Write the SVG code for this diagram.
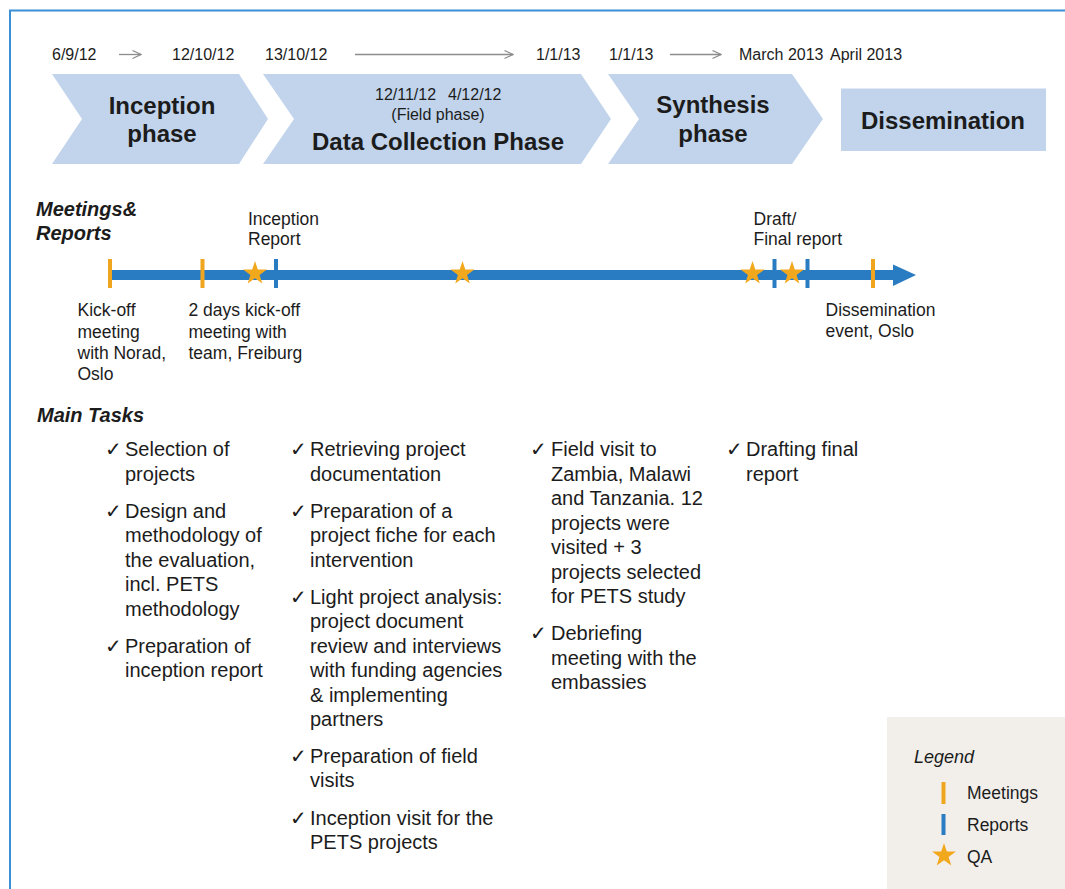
<svg xmlns="http://www.w3.org/2000/svg" width="1065" height="889" viewBox="0 0 1065 889">
<style>
text{font-family:"Liberation Sans",Arial,sans-serif;fill:#1c1c1c}
.date{font-size:16px}
.ph{font-size:24px;font-weight:bold;text-anchor:middle}
.sec{font-size:20px;font-weight:bold;font-style:italic}
.lbl{font-size:17.5px}
.task{font-size:20px}
.chk{font-family:"DejaVu Sans",sans-serif;font-size:20px}
.chev{fill:#c1d4ec}
.darr{stroke:#8c8c8c;stroke-width:1.3;fill:none;marker-end:url(#open)}
.meet{fill:#f0a51f}
.rep{fill:#2a7cc2}
.star{fill:#f2a81d}
</style>
<defs>
<marker id="open" viewBox="0 0 10 10" refX="9.5" refY="5" markerWidth="10" markerHeight="10" markerUnits="userSpaceOnUse" orient="auto">
<path d="M1,1 L9.5,5 L1,9" fill="none" stroke="#8c8c8c" stroke-width="1.2"/>
</marker>
<path id="star" d="M0,-12.5 L2.8,-3.9 L11.9,-3.9 L4.6,1.5 L7.3,10.1 L0,4.8 L-7.3,10.1 L-4.6,1.5 L-11.9,-3.9 L-2.8,-3.9 Z"/>
</defs>
<rect width="1065" height="889" fill="#ffffff"/>
<!-- frame -->
<g id="frame" stroke="#3b8fd7" stroke-width="2" fill="none">
<path d="M10,889 L10,10.5 L1065,10.5"/>
</g>
<!-- dates row -->
<g id="dates">
<text class="date" x="52" y="59.5">6/9/12</text>
<text class="date" x="172" y="59.5">12/10/12</text>
<text class="date" x="265" y="59.5">13/10/12</text>
<text class="date" x="536" y="59.5">1/1/13</text>
<text class="date" x="609" y="59.5">1/1/13</text>
<text class="date" x="739" y="59.5">March 2013</text>
<text class="date" x="830" y="59.5">April 2013</text>
</g>
<g id="date-arrows">
<line class="darr" x1="119" y1="54.5" x2="141" y2="54.5"/>
<line class="darr" x1="355" y1="54.5" x2="513" y2="54.5"/>
<line class="darr" x1="670" y1="54.5" x2="721" y2="54.5"/>
</g>
<!-- phases -->
<g id="phase-inception">
<polygon class="chev" points="52,74 239,74 268,119 239,164 52,164 82,119"/>
<text class="ph" x="162" y="113.5">Inception</text>
<text class="ph" x="162" y="142">phase</text>
</g>
<g id="phase-data">
<polygon class="chev" points="263,74 581,74 611,119 581,164 263,164 294,119"/>
<text class="date" x="375" y="99.5">12/11/12</text>
<text class="date" x="448" y="99.5">4/12/12</text>
<text class="date" x="438" y="119.5" text-anchor="middle">(Field phase)</text>
<text class="ph" x="438" y="149.5">Data Collection Phase</text>
</g>
<g id="phase-synthesis">
<polygon class="chev" points="608,74 792,74 823,119 792,164 608,164 639,119"/>
<text class="ph" x="713" y="113">Synthesis</text>
<text class="ph" x="713" y="142">phase</text>
</g>
<g id="phase-dissemination">
<rect class="chev" x="841" y="88.5" width="205" height="62.5"/>
<text class="ph" x="943" y="128.5">Dissemination</text>
</g>
<!-- meetings & reports -->
<g id="meetings-title">
<text class="sec" x="36" y="216">Meetings&amp;</text>
<text class="sec" x="36" y="240">Reports</text>
</g>
<g id="timeline">
<rect class="rep" x="108" y="270" width="788" height="10"/>
<polygon class="rep" points="893,264.5 916,275 893,286"/>
</g>
<g id="markers">
<rect class="meet" x="108" y="259" width="4" height="29"/>
<rect class="meet" x="200.5" y="259" width="4" height="29"/>
<use href="#star" class="star" x="255" y="273.5"/>
<rect class="rep" x="274" y="259" width="4" height="29"/>
<use href="#star" class="star" x="462.5" y="273.5"/>
<use href="#star" class="star" x="752.5" y="273.5"/>
<rect class="rep" x="772.5" y="259" width="4" height="29"/>
<use href="#star" class="star" x="792" y="273.5"/>
<rect class="rep" x="805.5" y="259" width="4" height="29"/>
<rect class="meet" x="871" y="259" width="4" height="29"/>
</g>
<g id="timeline-labels">
<text class="lbl" x="248" y="224.5">Inception</text>
<text class="lbl" x="248" y="245">Report</text>
<text class="lbl" x="77.5" y="316">Kick-off</text>
<text class="lbl" x="77.5" y="337.5">meeting</text>
<text class="lbl" x="77.5" y="358.5">with Norad,</text>
<text class="lbl" x="77.5" y="379.5">Oslo</text>
<text class="lbl" x="188.5" y="316">2 days kick-off</text>
<text class="lbl" x="188.5" y="337.5">meeting with</text>
<text class="lbl" x="188.5" y="358.5">team, Freiburg</text>
<text class="lbl" x="753.5" y="224.5">Draft/</text>
<text class="lbl" x="753.5" y="245">Final report</text>
<text class="lbl" x="825.5" y="316">Dissemination</text>
<text class="lbl" x="825.5" y="337">event, Oslo</text>
</g>
<!-- main tasks -->
<g id="tasks-title">
<text class="sec" x="37" y="422">Main Tasks</text>
</g>
<g id="tasks-inception">
<text class="chk" x="105" y="456">✓</text>
<text class="task" x="125" y="456">Selection of</text>
<text class="task" x="125" y="480.5">projects</text>
<text class="chk" x="105" y="517.5">✓</text>
<text class="task" x="125" y="517.5">Design and</text>
<text class="task" x="125" y="542">methodology of</text>
<text class="task" x="125" y="566.5">the evaluation,</text>
<text class="task" x="125" y="591">incl. PETS</text>
<text class="task" x="125" y="615.5">methodology</text>
<text class="chk" x="105" y="652.5">✓</text>
<text class="task" x="125" y="652.5">Preparation of</text>
<text class="task" x="125" y="677">inception report</text>
</g>
<g id="tasks-data">
<text class="chk" x="290" y="456">✓</text>
<text class="task" x="310" y="456">Retrieving project</text>
<text class="task" x="310" y="480.5">documentation</text>
<text class="chk" x="290" y="517.5">✓</text>
<text class="task" x="310" y="517.5">Preparation of a</text>
<text class="task" x="310" y="542">project fiche for each</text>
<text class="task" x="310" y="566.5">intervention</text>
<text class="chk" x="290" y="603.5">✓</text>
<text class="task" x="310" y="603.5">Light project analysis:</text>
<text class="task" x="310" y="628">project document</text>
<text class="task" x="310" y="652.5">review and interviews</text>
<text class="task" x="310" y="677">with funding agencies</text>
<text class="task" x="310" y="701.5">&amp; implementing</text>
<text class="task" x="310" y="726">partners</text>
<text class="chk" x="290" y="762.5">✓</text>
<text class="task" x="310" y="762.5">Preparation of field</text>
<text class="task" x="310" y="787">visits</text>
<text class="chk" x="290" y="824.5">✓</text>
<text class="task" x="310" y="824.5">Inception visit for the</text>
<text class="task" x="310" y="849">PETS projects</text>
</g>
<g id="tasks-field">
<text class="chk" x="530" y="456">✓</text>
<text class="task" x="551" y="456">Field visit to</text>
<text class="task" x="551" y="480.5">Zambia, Malawi</text>
<text class="task" x="551" y="505">and Tanzania. 12</text>
<text class="task" x="551" y="529.5">projects were</text>
<text class="task" x="551" y="554">visited + 3</text>
<text class="task" x="551" y="578.5">projects selected</text>
<text class="task" x="551" y="603">for PETS study</text>
<text class="chk" x="530" y="640">✓</text>
<text class="task" x="551" y="640">Debriefing</text>
<text class="task" x="551" y="664.5">meeting with the</text>
<text class="task" x="551" y="689">embassies</text>
</g>
<g id="tasks-synthesis">
<text class="chk" x="726" y="456">✓</text>
<text class="task" x="746" y="456">Drafting final</text>
<text class="task" x="746" y="480.5">report</text>
</g>
<!-- legend -->
<g id="legend">
<rect x="887" y="717" width="178" height="172" fill="#f2efea"/>
<text x="914" y="763" font-size="18" font-style="italic">Legend</text>
<rect class="meet" x="941.5" y="782" width="4" height="22"/>
<text class="lbl" x="967" y="799" font-size="17">Meetings</text>
<rect class="rep" x="941.5" y="814" width="4" height="21"/>
<text class="lbl" x="967" y="831">Reports</text>
<use href="#star" class="star" x="944" y="855.5"/>
<text class="lbl" x="967" y="863">QA</text>
</g>
</svg>
